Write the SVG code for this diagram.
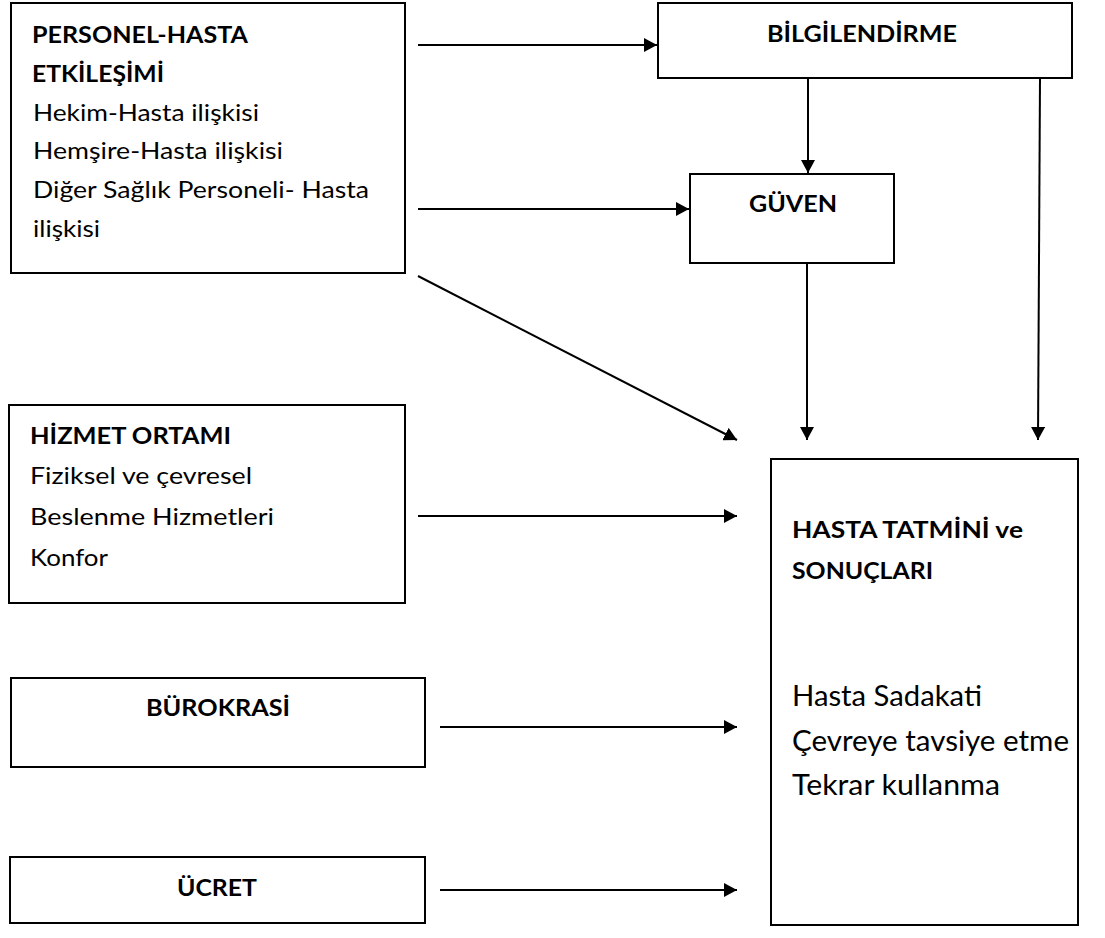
<svg xmlns="http://www.w3.org/2000/svg" width="1105" height="938" viewBox="0 0 1105 938">
<style>
.box{fill:#fff;stroke:#000;stroke-width:2}
.t{font-family:Lato,"Open Sans","Liberation Sans",sans-serif;font-size:23.5px;fill:#000}
.b{font-weight:bold}
.big{font-size:28px}
.c{stroke:#000;stroke-width:2;fill:none}
</style>
<defs>
<marker id="ah" markerWidth="14" markerHeight="14" refX="13" refY="7" orient="auto" markerUnits="userSpaceOnUse">
<path d="M0,0 L13,7 L0,14 Z" fill="#000"/>
</marker>
</defs>
<rect width="1105" height="938" fill="#fff"/>
<g id="personel">
<rect class="box" x="11" y="3" width="394" height="270"/>
<text class="t b" x="32" y="43" textLength="216" lengthAdjust="spacingAndGlyphs">PERSONEL-HASTA</text>
<text class="t b" x="32" y="82" textLength="132" lengthAdjust="spacingAndGlyphs">ETKİLEŞİMİ</text>
<text class="t" x="33" y="121" textLength="226" lengthAdjust="spacingAndGlyphs">Hekim-Hasta ilişkisi</text>
<text class="t" x="33" y="159" textLength="250" lengthAdjust="spacingAndGlyphs">Hemşire-Hasta ilişkisi</text>
<text class="t" x="33" y="198" textLength="336" lengthAdjust="spacingAndGlyphs">Diğer Sağlık Personeli- Hasta</text>
<text class="t" x="33" y="237" textLength="67" lengthAdjust="spacingAndGlyphs">ilişkisi</text>
</g>
<g id="bilgilendirme">
<rect class="box" x="658" y="3" width="414" height="75"/>
<text class="t b" x="862" y="42" text-anchor="middle" textLength="190" lengthAdjust="spacingAndGlyphs">BİLGİLENDİRME</text>
</g>
<g id="guven">
<rect class="box" x="690" y="174" width="204" height="89"/>
<text class="t b" x="793" y="212" text-anchor="middle" textLength="88" lengthAdjust="spacingAndGlyphs">GÜVEN</text>
</g>
<g id="hizmet">
<rect class="box" x="9" y="405" width="396" height="198"/>
<text class="t b" x="30" y="444" textLength="201" lengthAdjust="spacingAndGlyphs">HİZMET ORTAMI</text>
<text class="t" x="30" y="484" textLength="222" lengthAdjust="spacingAndGlyphs">Fiziksel ve çevresel</text>
<text class="t" x="30" y="525" textLength="244" lengthAdjust="spacingAndGlyphs">Beslenme Hizmetleri</text>
<text class="t" x="30" y="566" textLength="78" lengthAdjust="spacingAndGlyphs">Konfor</text>
</g>
<g id="burokrasi">
<rect class="box" x="11" y="678" width="414" height="89"/>
<text class="t b" x="218" y="716" text-anchor="middle" textLength="144" lengthAdjust="spacingAndGlyphs">BÜROKRASİ</text>
</g>
<g id="ucret">
<rect class="box" x="10" y="857" width="415" height="66"/>
<text class="t b" x="217" y="896" text-anchor="middle" textLength="80" lengthAdjust="spacingAndGlyphs">ÜCRET</text>
</g>
<g id="hasta">
<rect class="box" x="771" y="459" width="307" height="466"/>
<text class="t b" x="792" y="538" textLength="231" lengthAdjust="spacingAndGlyphs">HASTA TATMİNİ ve</text>
<text class="t b" x="792" y="579" textLength="141" lengthAdjust="spacingAndGlyphs">SONUÇLARI</text>
<text class="t big" x="792" y="706" textLength="190" lengthAdjust="spacingAndGlyphs">Hasta Sadakati</text>
<text class="t big" x="792" y="751" textLength="277" lengthAdjust="spacingAndGlyphs">Çevreye tavsiye etme</text>
<text class="t big" x="792" y="795" textLength="208" lengthAdjust="spacingAndGlyphs">Tekrar kullanma</text>
</g>
<g id="connectors">
<line class="c" x1="418" y1="45" x2="657" y2="45" marker-end="url(#ah)"/>
<line class="c" x1="418" y1="209" x2="689" y2="209" marker-end="url(#ah)"/>
<line class="c" x1="808" y1="78" x2="808" y2="173" marker-end="url(#ah)"/>
<line class="c" x1="807" y1="263" x2="807" y2="440" marker-end="url(#ah)"/>
<line class="c" x1="1040" y1="78" x2="1038" y2="440" marker-end="url(#ah)"/>
<line class="c" x1="418" y1="276" x2="737" y2="440" marker-end="url(#ah)"/>
<line class="c" x1="418" y1="516" x2="737" y2="516" marker-end="url(#ah)"/>
<line class="c" x1="440" y1="727" x2="737" y2="727" marker-end="url(#ah)"/>
<line class="c" x1="440" y1="890" x2="737" y2="890" marker-end="url(#ah)"/>
</g>
</svg>
